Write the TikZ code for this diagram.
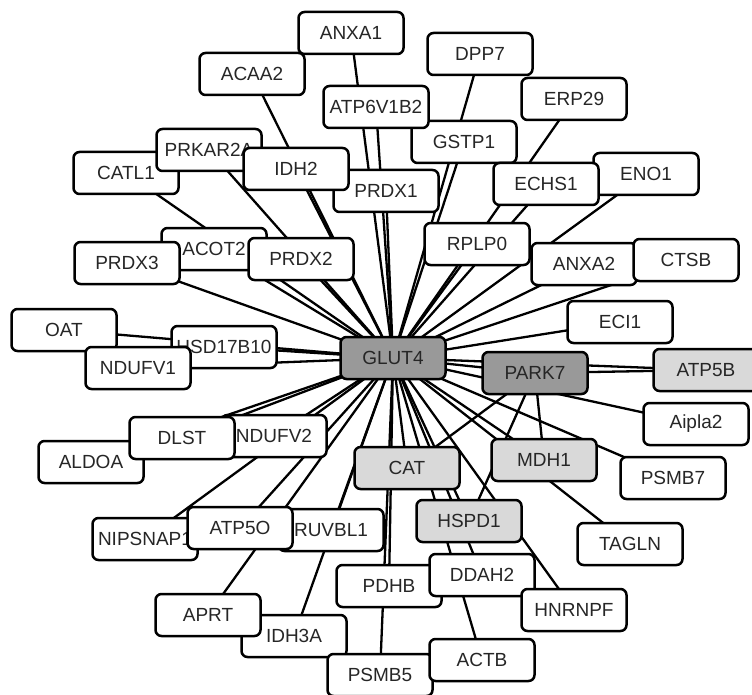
\documentclass[tikz,border=0pt]{standalone}
\usepackage{fontspec}
\setmainfont{Liberation Sans}
\usetikzlibrary{backgrounds}
\definecolor{hubfill}{gray}{0.6}
\definecolor{midfill}{gray}{0.85}
\begin{document}
\begin{tikzpicture}[x=1pt, y=-1pt,
	gene/.style={draw, rectangle, rounded corners=6pt, line width=2.5pt, fill=white,
		minimum width=105pt, minimum height=42pt, inner sep=0pt,
		text=black!85, font=\fontsize{19}{21}\selectfont},
	hub/.style={gene, fill=hubfill},
	mid/.style={gene, fill=midfill},
	link/.style={line width=2.3pt}]
	\useasboundingbox (0, 0) rectangle (752, 695);
	\node[gene] (anxa1) at (351, 33) {ANXA1};
	\node[gene] (acaa2) at (252, 74) {ACAA2};
	\node[gene] (dpp7) at (480, 54) {DPP7};
	\node[gene] (erp29) at (574, 99) {ERP29};
	\node[gene] (gstp1) at (464, 142) {GSTP1};
	\node[gene] (atp6v1b2) at (376, 107) {ATP6V1B2};
	\node[gene] (catl1) at (126, 173) {CATL1};
	\node[gene] (prkar2a) at (209, 150) {PRKAR2A};
	\node[gene] (prdx1) at (386, 191) {PRDX1};
	\node[gene] (idh2) at (296, 169) {IDH2};
	\node[gene] (eno1) at (646, 174) {ENO1};
	\node[gene] (echs1) at (546, 184) {ECHS1};
	\node[gene] (rplp0) at (477, 244) {RPLP0};
	\node[gene] (anxa2) at (584, 264) {ANXA2};
	\node[gene] (ctsb) at (686, 260) {CTSB};
	\node[gene] (eci1) at (620, 322) {ECI1};
	\node[gene] (acot2) at (214, 249) {ACOT2};
	\node[gene] (prdx3) at (127, 263) {PRDX3};
	\node[gene] (prdx2) at (301, 259) {PRDX2};
	\node[gene] (oat) at (64, 330) {OAT};
	\node[gene] (hsd17b10) at (224, 347) {HSD17B10};
	\node[gene] (ndufv1) at (138, 368) {NDUFV1};
	\node[hub] (glut4) at (393, 358) {GLUT4};
	\node[hub] (park7) at (535, 373) {PARK7};
	\node[mid] (atp5b) at (706, 370) {ATP5B};
	\node[gene] (aipla2) at (696, 424) {Aipla2};
	\node[gene] (psmb7) at (673, 478) {PSMB7};
	\node[mid] (mdh1) at (544, 460) {MDH1};
	\node[mid] (cat) at (407, 468) {CAT};
	\node[mid] (hspd1) at (469, 521) {HSPD1};
	\node[gene] (tagln) at (630, 544) {TAGLN};
	\node[gene] (aldoa) at (91, 462) {ALDOA};
	\node[gene] (ndufv2) at (274, 436) {NDUFV2};
	\node[gene] (dlst) at (182, 438) {DLST};
	\node[gene] (nipsnap1) at (145, 539) {NIPSNAP1};
	\node[gene] (ruvbl1) at (331, 530) {RUVBL1};
	\node[gene] (atp5o) at (240, 528) {ATP5O};
	\node[gene] (idh3a) at (294, 636) {IDH3A};
	\node[gene] (aprt) at (208, 615) {APRT};
	\node[gene] (pdhb) at (389, 586) {PDHB};
	\node[gene] (ddah2) at (482, 575) {DDAH2};
	\node[gene] (hnrnpf) at (574, 610) {HNRNPF};
	\node[gene] (psmb5) at (380, 675) {PSMB5};
	\node[gene] (actb) at (482, 660) {ACTB};
	% edges behind the boxes
	\begin{scope}[on background layer]
		\foreach \g in {anxa1, acaa2, dpp7, erp29, gstp1, atp6v1b2, catl1, prkar2a, prdx1,
			idh2, eno1, echs1, rplp0, anxa2, ctsb, eci1, acot2, prdx3, prdx2, oat, hsd17b10,
			ndufv1, park7, atp5b, aipla2, psmb7, mdh1, cat, hspd1, tagln, aldoa, ndufv2, dlst,
			nipsnap1, ruvbl1, atp5o, idh3a, aprt, pdhb, ddah2, hnrnpf, psmb5, actb}
			\draw[link] (glut4.center) -- (\g.center);
		\foreach \g in {atp5b, mdh1, hspd1, cat}
			\draw[link] (park7.center) -- (\g.center);
	\end{scope}
\end{tikzpicture}
\end{document}
